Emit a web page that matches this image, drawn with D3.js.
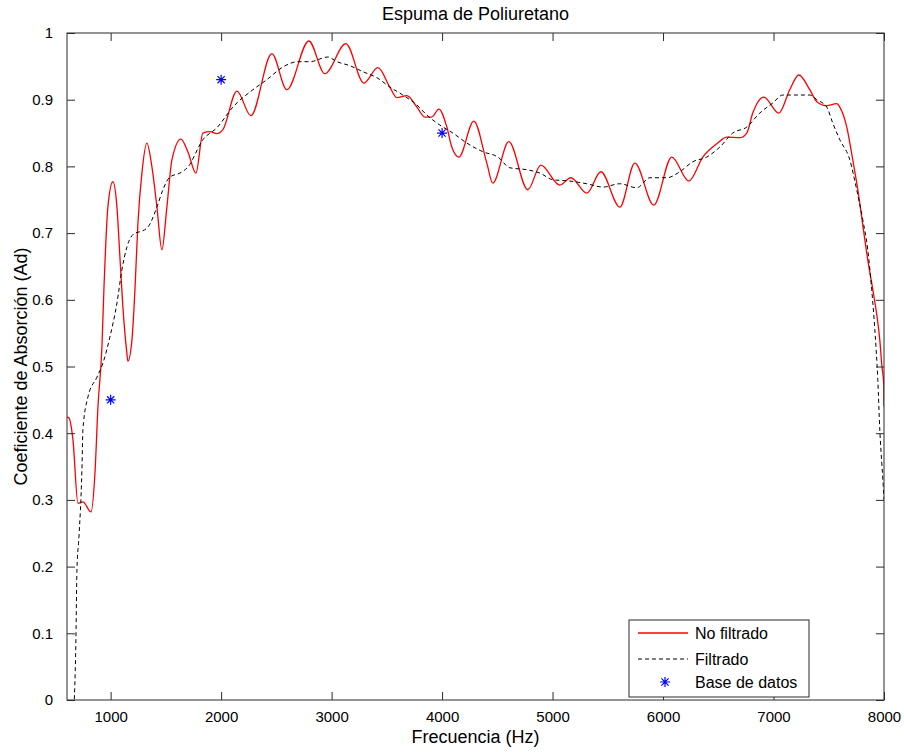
<!DOCTYPE html>
<html>
<head>
<meta charset="utf-8">
<script src="https://cdn.jsdelivr.net/npm/d3@7"></script>
<style>
    body { margin: 0; background: #fff; }
    text { font-family: "Liberation Sans", Arial, sans-serif; fill: #000; }
</style>
</head>
<body>
<svg id="chart" width="904" height="752"></svg>
<script>
// Curva sin filtrar (roja)
var freqRaw = [605, 622, 659, 704, 749, 822, 858, 885, 921, 939, 975, 1020, 1057, 1084, 1111, 1147, 1156,
    1193, 1220, 1247, 1283, 1328, 1374, 1419, 1464, 1509, 1555, 1636, 1699, 1772, 1835, 1898, 1962, 2016,
    2143, 2269, 2459, 2595, 2794, 2939, 3129, 3292, 3419, 3527, 3591, 3681, 3772, 3844, 3907, 3971, 4043,
    4088, 4152, 4287, 4405, 4459, 4604, 4776, 4894, 5066, 5165, 5310, 5437, 5609, 5745, 5916, 6079, 6233,
    6360, 6487, 6577, 6695, 6758, 6812, 6912, 7048, 7147, 7229, 7328, 7392, 7482, 7572, 7600, 7663, 7717,
    7763, 7808, 7853, 7899, 7935, 7962, 7980, 7998, 8000];
var absRaw = [0.424, 0.423, 0.390, 0.295, 0.297, 0.282, 0.340, 0.439, 0.529, 0.615, 0.739, 0.777, 0.739,
    0.664, 0.589, 0.520, 0.508, 0.540, 0.615, 0.715, 0.790, 0.835, 0.799, 0.739, 0.675, 0.739, 0.810, 0.841,
    0.822, 0.790, 0.850, 0.852, 0.849, 0.855, 0.913, 0.876, 0.969, 0.915, 0.988, 0.939, 0.984, 0.925, 0.948,
    0.919, 0.903, 0.906, 0.889, 0.874, 0.874, 0.886, 0.859, 0.829, 0.814, 0.868, 0.805, 0.775, 0.837, 0.765,
    0.802, 0.772, 0.783, 0.760, 0.792, 0.739, 0.805, 0.742, 0.814, 0.778, 0.814, 0.834, 0.844, 0.843, 0.850,
    0.880, 0.904, 0.880, 0.915, 0.937, 0.915, 0.897, 0.891, 0.894, 0.889, 0.859, 0.810, 0.765, 0.712, 0.660,
    0.615, 0.577, 0.540, 0.502, 0.472, 0.440];

// Curva filtrada (negra discontinua)
var freqFilt = [660, 686, 695, 713, 740, 749, 794, 876, 930, 993, 1057, 1102, 1147, 1220, 1265, 1337, 1419,
    1473, 1536, 1627, 1699, 1835, 1962, 2107, 2288, 2414, 2559, 2695, 2803, 2966, 3048, 3165, 3283, 3410,
    3527, 3645, 3772, 3862, 3980, 4097, 4224, 4369, 4505, 4613, 4767, 4885, 5003, 5156, 5310, 5455, 5609,
    5763, 5880, 6034, 6152, 6270, 6396, 6514, 6631, 6758, 6876, 6993, 7084, 7210, 7328, 7392, 7482, 7536,
    7600, 7690, 7753, 7808, 7853, 7889, 7917, 7944, 7962, 7980, 7990, 8000];
var absFilt = [-0.03, 0.094, 0.195, 0.244, 0.345, 0.405, 0.454, 0.484, 0.505, 0.544, 0.595, 0.645, 0.679,
    0.700, 0.702, 0.709, 0.739, 0.765, 0.784, 0.790, 0.799, 0.840, 0.858, 0.889, 0.915, 0.930, 0.949, 0.957,
    0.957, 0.964, 0.957, 0.951, 0.942, 0.933, 0.919, 0.907, 0.892, 0.877, 0.862, 0.850, 0.835, 0.822, 0.814,
    0.798, 0.795, 0.790, 0.780, 0.778, 0.774, 0.769, 0.774, 0.768, 0.783, 0.783, 0.792, 0.807, 0.814, 0.829,
    0.850, 0.859, 0.880, 0.895, 0.907, 0.907, 0.907, 0.900, 0.889, 0.865, 0.840, 0.810, 0.765, 0.720, 0.675,
    0.615, 0.555, 0.480, 0.405, 0.355, 0.330, 0.300];

// Base de datos
var freqDb = [1000, 2000, 4000];
var absDb = [0.45, 0.93, 0.85];

var xTicks = [1000, 2000, 3000, 4000, 5000, 6000, 7000, 8000];
var yTicks = [0, 0.1, 0.2, 0.3, 0.4, 0.5, 0.6, 0.7, 0.8, 0.9, 1];

var margin = { top: 33, right: 20, bottom: 52, left: 67 };
var width = 904 - margin.left - margin.right;
var height = 752 - margin.top - margin.bottom;
var TICK = 8;

var svg = d3.select("#chart");
var g = svg.append("g").attr("transform", "translate(" + margin.left + "," + margin.top + ")");

var x = d3.scaleLinear().domain([605, 8000]).range([0, width]);
var y = d3.scaleLinear().domain([0, 1]).range([height, 0]);

svg.append("defs").append("clipPath").attr("id", "plot-area")
    .append("rect").attr("width", width).attr("height", height);

function zip(xs, ys) {
    return xs.map(function(d, i) { return [d, ys[i]]; });
}

var line = d3.line()
    .x(function(d) { return x(d[0]); })
    .y(function(d) { return y(d[1]); })
    .curve(d3.curveMonotoneX);

var plot = g.append("g").attr("clip-path", "url(#plot-area)");

plot.append("path")
    .datum(zip(freqRaw, absRaw))
    .attr("d", line)
    .attr("fill", "none")
    .attr("stroke", "#ff0000")
    .attr("stroke-width", 1.3);

plot.append("path")
    .datum(zip(freqFilt, absFilt))
    .attr("d", line)
    .attr("fill", "none")
    .attr("stroke", "#000")
    .attr("stroke-width", 1)
    .attr("stroke-dasharray", "4,3");

// asterisco estilo MATLAB
function star(sel, r) {
    var k = r * 0.72;
    sel.append("path")
        .attr("d", "M" + (-r) + ",0H" + r + "M0," + (-r) + "V" + r +
            "M" + (-k) + "," + (-k) + "L" + k + "," + k + "M" + (-k) + "," + k + "L" + k + "," + (-k))
        .attr("stroke", "#0000ff")
        .attr("stroke-width", 1.2)
        .attr("fill", "none");
}

g.selectAll(".db")
    .data(zip(freqDb, absDb))
    .enter().append("g")
    .attr("class", "db")
    .attr("transform", function(d) { return "translate(" + x(d[0]) + "," + y(d[1]) + ")"; })
    .each(function() { star(d3.select(this), 5); });

// ejes con marcas hacia dentro, en los cuatro lados
var axisColor = "#2b2b2b";

function styleAxis(a) {
    a.select(".domain").remove();
    a.selectAll("line").attr("stroke", axisColor);
    a.selectAll("text").attr("font-size", 15).attr("fill", "#000");
}

g.append("g")
    .attr("transform", "translate(0," + height + ")")
    .call(d3.axisBottom(x).tickValues(xTicks).tickSize(-TICK).tickPadding(TICK + 3).tickFormat(d3.format("d")))
    .call(styleAxis);

g.append("g")
    .call(d3.axisTop(x).tickValues(xTicks).tickSize(-TICK).tickFormat(""))
    .call(styleAxis);

g.append("g")
    .call(d3.axisLeft(y).tickValues(yTicks).tickSize(-TICK).tickPadding(TICK + 6).tickFormat(d3.format("")))
    .call(styleAxis);

g.append("g")
    .attr("transform", "translate(" + width + ",0)")
    .call(d3.axisRight(y).tickValues(yTicks).tickSize(-TICK).tickFormat(""))
    .call(styleAxis);

g.append("rect")
    .attr("width", width)
    .attr("height", height)
    .attr("fill", "none")
    .attr("stroke", axisColor)
    .attr("stroke-width", 1);

// textos
svg.append("text")
    .attr("x", margin.left + width / 2)
    .attr("y", 20)
    .attr("text-anchor", "middle")
    .attr("font-size", 18)
    .text("Espuma de Poliuretano");

svg.append("text")
    .attr("x", margin.left + width / 2)
    .attr("y", 743)
    .attr("text-anchor", "middle")
    .attr("font-size", 18)
    .text("Frecuencia (Hz)");

svg.append("text")
    .attr("transform", "translate(27," + (margin.top + height / 2) + ") rotate(-90)")
    .attr("text-anchor", "middle")
    .attr("font-size", 18)
    .text("Coeficiente de Absorción (Ad)");

// leyenda
var legend = svg.append("g").attr("transform", "translate(629,620)");
legend.append("rect")
    .attr("width", 180)
    .attr("height", 77)
    .attr("fill", "#fff")
    .attr("stroke", axisColor)
    .attr("stroke-width", 1);

var rows = [13, 39, 62];
legend.append("line").attr("x1", 9).attr("x2", 59).attr("y1", rows[0]).attr("y2", rows[0])
    .attr("stroke", "#ff0000").attr("stroke-width", 1.3);
legend.append("line").attr("x1", 9).attr("x2", 59).attr("y1", rows[1]).attr("y2", rows[1])
    .attr("stroke", "#000").attr("stroke-dasharray", "4,3");
legend.append("g").attr("transform", "translate(36," + rows[2] + ")").call(star, 5);

["No filtrado", "Filtrado", "Base de datos"].forEach(function(t, i) {
    legend.append("text")
        .attr("x", 66)
        .attr("y", rows[i] + 6)
        .attr("font-size", 16)
        .text(t);
});
</script>
</body>
</html>
